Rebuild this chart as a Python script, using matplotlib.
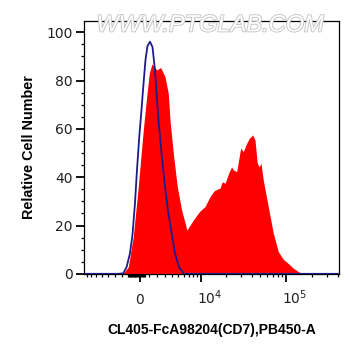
import numpy as np
import matplotlib
matplotlib.use("Agg")
import matplotlib.pyplot as plt
import matplotlib.patheffects as pe
import matplotlib.transforms as mtransforms

plt.rcParams['font.family'] = ['Liberation Sans', 'DejaVu Sans']
plt.rcParams['mathtext.fontset'] = 'custom'
plt.rcParams['mathtext.rm'] = 'DejaVu Sans'

# stained sample (red filled histogram), x in fluorescence units
stain_x = [-8576, -1940, -1309, -742, -187, 364, 742, 1035, 1344, 1900, 2396,
           2961, 3418, 3668, 4168, 4811, 5585, 6618, 8056, 9778, 11277, 12976,
           14498, 15963, 17094, 18200, 19585, 22000, 23475, 24508, 26853, 29894,
           32050, 35101, 37624, 41199, 43803, 46575, 49124, 51398, 54643, 62420,
           71305, 81410, 93018, 106200, 121270, 144930, 173140, 413550]
stain_y = [0, 0, 2.9, 15.4, 36.1, 59.5, 73.3, 83.0, 86.9, 84.4, 85.4,
           81.6, 74.7, 63.7, 49.9, 36.1, 26.4, 18.1, 22.3, 26.0, 27.8, 31.9,
           34.3, 35.1, 35.4, 38.1, 37.5, 42.3, 44.3, 43.0, 42.3, 52.0,
           50.6, 54.0, 56.1, 57.5, 55.4, 45.8, 44.3, 45.8, 38.8, 27.8,
           16.8, 9.2, 6.0, 4.3, 2.3, 0.5, 0, 0]

# isotype control (blue outline)
ctrl_x = [-8576, -2524, -1900, -1496, -1114, -831, -552, -331, -77, 165, 364,
          608, 831, 1114, 1402, 1696, 2096, 2524, 2961, 3418, 3918, 4428,
          5179, 6051, 413550]
ctrl_y = [0, 0, 0.2, 2.9, 8.5, 16.1, 29.2, 43.0, 56.8, 67.8, 77.5,
          88.5, 94.3, 96.1, 93.9, 84.4, 64.5, 49.2, 36.1, 25.1, 16.8, 8.5,
          2.4, 0, 0]

x_major = [0, 1e4, 1e5]
x_major_labels = ['0', r'$\mathregular{10^4}$', r'$\mathregular{10^5}$']
x_minor = ([-k * 1000 for k in range(1, 9)] + list(range(-1300, 600, 100))
           + [k * 1000 for k in range(1, 10)] + [k * 1e4 for k in range(2, 10)]
           + [k * 1e5 for k in range(2, 5)])

fig = plt.figure(figsize=(3.61, 3.56), dpi=100)
ax = fig.add_axes([0.234, 0.2295, 0.7064, 0.7124])
ax.set_xscale('asinh', linear_width=4150)

ax.fill_between(stain_x, stain_y, 0, color='#ff0000', lw=0, zorder=2)
ax.plot(ctrl_x, ctrl_y, color='#1c1c8c', lw=1.3, zorder=3)

ax.set_xlim(-8576, 413550)
ax.set_ylim(-0.2, 104.8)

ax.set_xticks(x_major)
ax.set_xticklabels(x_major_labels)
ax.set_xticks(x_minor, minor=True)
ax.set_yticks([0, 20, 40, 60, 80, 100])
ax.set_yticks(np.arange(0, 105, 5), minor=True)

for s in ax.spines.values():
    s.set_linewidth(0.9)
ax.tick_params(axis='both', which='major', length=5.5, width=1.3, colors='black',
               labelcolor='#222222', labelsize=10)
ax.tick_params(axis='both', which='minor', length=2.5, width=0.9)
ax.tick_params(axis='x', which='major', pad=16)
ax.tick_params(axis='y', which='major', pad=3)
for lab in ax.get_xticklabels() + ax.get_yticklabels():
    lab.set_fontfamily('DejaVu Sans')
shift = mtransforms.ScaledTranslation(-3 / 72, 0, fig.dpi_scale_trans)
for i, lab in enumerate(ax.get_xticklabels()):
    lab.set_va('baseline')
    if i > 0:
        lab.set_ha('left')
        lab.set_transform(lab.get_transform() + shift)

ax.set_xlabel('CL405-FcA98204(CD7),PB450-A', fontweight='bold', fontsize=10)
ax.xaxis.set_label_coords(0.5, -0.191)
ax.set_ylabel('Relative Cell Number', fontweight='bold', fontsize=10.4)
ax.yaxis.set_label_coords(-0.19, 0.5)

fig.text(0.582, 0.930, 'WWW.PTGLAB.COM', fontsize=17, fontstyle='italic',
         color='white', ha='center', va='center',
         path_effects=[pe.withStroke(linewidth=1.3, foreground='#c4c4c4')])

fig.savefig('out.png', dpi=100)
